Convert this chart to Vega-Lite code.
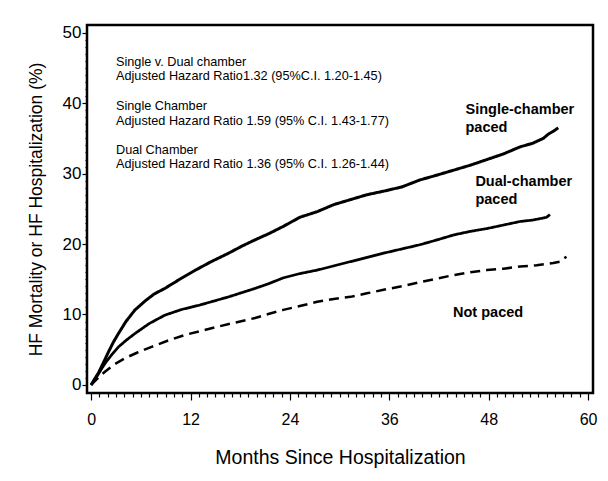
{
  "$schema": "https://vega.github.io/schema/vega-lite/v6.json",
  "width": 506,
  "height": 368,
  "autosize": "none",
  "padding": {"left": 87, "top": 25, "right": 15, "bottom": 88},
  "background": "white",
  "config": {
    "view": {"stroke": "black", "strokeWidth": 2.5},
    "font": "Liberation Sans",
    "axis": {"domain": false, "grid": false, "labelColor": "black", "tickColor": "black", "titleColor": "black", "labelFont": "Liberation Sans", "titleFont": "Liberation Sans", "titleFontWeight": "normal", "labelOverlap": false, "labelBound": false}
  },
  "datasets": {
    "curves": [
      {"group": "Single", "m": 0, "v": 0}, {"group": "Single", "m": 0.4, "v": 0.8}, {"group": "Single", "m": 0.88, "v": 1.7}, {"group": "Single", "m": 1.5, "v": 3.2}, {"group": "Single", "m": 2.1, "v": 4.7}, {"group": "Single", "m": 2.7, "v": 6.1}, {"group": "Single", "m": 3.3, "v": 7.3}, {"group": "Single", "m": 4.2, "v": 9.0}, {"group": "Single", "m": 5.3, "v": 10.65}, {"group": "Single", "m": 6.5, "v": 11.9}, {"group": "Single", "m": 7.6, "v": 12.9}, {"group": "Single", "m": 8.9, "v": 13.7}, {"group": "Single", "m": 10.7, "v": 15.0}, {"group": "Single", "m": 12.6, "v": 16.3}, {"group": "Single", "m": 14.5, "v": 17.5}, {"group": "Single", "m": 16.6, "v": 18.7}, {"group": "Single", "m": 18.2, "v": 19.7}, {"group": "Single", "m": 19.8, "v": 20.6}, {"group": "Single", "m": 21.5, "v": 21.5}, {"group": "Single", "m": 23.2, "v": 22.5}, {"group": "Single", "m": 25.2, "v": 23.8}, {"group": "Single", "m": 27.3, "v": 24.6}, {"group": "Single", "m": 29.3, "v": 25.6}, {"group": "Single", "m": 31.3, "v": 26.3}, {"group": "Single", "m": 33.3, "v": 27.0}, {"group": "Single", "m": 35.3, "v": 27.5}, {"group": "Single", "m": 37.5, "v": 28.1}, {"group": "Single", "m": 39.7, "v": 29.1}, {"group": "Single", "m": 41.8, "v": 29.8}, {"group": "Single", "m": 43.8, "v": 30.5}, {"group": "Single", "m": 45.8, "v": 31.2}, {"group": "Single", "m": 47.8, "v": 32.0}, {"group": "Single", "m": 49.8, "v": 32.8}, {"group": "Single", "m": 51.8, "v": 33.8}, {"group": "Single", "m": 53.3, "v": 34.3}, {"group": "Single", "m": 54.6, "v": 35.0}, {"group": "Single", "m": 55.2, "v": 35.6}, {"group": "Single", "m": 55.8, "v": 36.0}, {"group": "Single", "m": 56.4, "v": 36.5},
      {"group": "Dual", "m": 0, "v": 0}, {"group": "Dual", "m": 0.5, "v": 0.8}, {"group": "Dual", "m": 1.0, "v": 1.8}, {"group": "Dual", "m": 1.7, "v": 3.1}, {"group": "Dual", "m": 2.5, "v": 4.3}, {"group": "Dual", "m": 3.3, "v": 5.4}, {"group": "Dual", "m": 4.3, "v": 6.4}, {"group": "Dual", "m": 5.3, "v": 7.3}, {"group": "Dual", "m": 7.0, "v": 8.7}, {"group": "Dual", "m": 8.9, "v": 9.9}, {"group": "Dual", "m": 10.9, "v": 10.7}, {"group": "Dual", "m": 13.0, "v": 11.3}, {"group": "Dual", "m": 14.8, "v": 11.9}, {"group": "Dual", "m": 16.6, "v": 12.5}, {"group": "Dual", "m": 18.2, "v": 13.1}, {"group": "Dual", "m": 19.8, "v": 13.7}, {"group": "Dual", "m": 21.5, "v": 14.4}, {"group": "Dual", "m": 23.2, "v": 15.2}, {"group": "Dual", "m": 25.2, "v": 15.8}, {"group": "Dual", "m": 27.3, "v": 16.3}, {"group": "Dual", "m": 29.3, "v": 16.9}, {"group": "Dual", "m": 31.3, "v": 17.5}, {"group": "Dual", "m": 33.3, "v": 18.1}, {"group": "Dual", "m": 35.3, "v": 18.7}, {"group": "Dual", "m": 37.5, "v": 19.3}, {"group": "Dual", "m": 39.7, "v": 19.9}, {"group": "Dual", "m": 41.8, "v": 20.6}, {"group": "Dual", "m": 43.8, "v": 21.3}, {"group": "Dual", "m": 45.8, "v": 21.8}, {"group": "Dual", "m": 47.8, "v": 22.2}, {"group": "Dual", "m": 49.8, "v": 22.7}, {"group": "Dual", "m": 51.8, "v": 23.2}, {"group": "Dual", "m": 53.3, "v": 23.4}, {"group": "Dual", "m": 54.6, "v": 23.7}, {"group": "Dual", "m": 55.0, "v": 23.8}, {"group": "Dual", "m": 55.4, "v": 24.2},
      {"group": "Not", "m": 0, "v": 0}, {"group": "Not", "m": 0.6, "v": 0.7}, {"group": "Not", "m": 1.0, "v": 1.2}, {"group": "Not", "m": 1.7, "v": 1.9}, {"group": "Not", "m": 2.8, "v": 2.9}, {"group": "Not", "m": 4.1, "v": 3.8}, {"group": "Not", "m": 5.6, "v": 4.6}, {"group": "Not", "m": 7.3, "v": 5.4}, {"group": "Not", "m": 9.3, "v": 6.3}, {"group": "Not", "m": 11.35, "v": 7.1}, {"group": "Not", "m": 13.4, "v": 7.7}, {"group": "Not", "m": 15.4, "v": 8.3}, {"group": "Not", "m": 17.6, "v": 8.9}, {"group": "Not", "m": 19.8, "v": 9.5}, {"group": "Not", "m": 21.5, "v": 10.1}, {"group": "Not", "m": 23.2, "v": 10.65}, {"group": "Not", "m": 25.2, "v": 11.2}, {"group": "Not", "m": 27.3, "v": 11.8}, {"group": "Not", "m": 29.3, "v": 12.2}, {"group": "Not", "m": 31.3, "v": 12.5}, {"group": "Not", "m": 33.3, "v": 13.0}, {"group": "Not", "m": 35.3, "v": 13.5}, {"group": "Not", "m": 37.5, "v": 14.0}, {"group": "Not", "m": 39.7, "v": 14.6}, {"group": "Not", "m": 41.8, "v": 15.1}, {"group": "Not", "m": 43.8, "v": 15.6}, {"group": "Not", "m": 45.8, "v": 16.0}, {"group": "Not", "m": 47.8, "v": 16.3}, {"group": "Not", "m": 49.8, "v": 16.5}, {"group": "Not", "m": 51.8, "v": 16.8}, {"group": "Not", "m": 53.8, "v": 17.0}, {"group": "Not", "m": 55.8, "v": 17.3}, {"group": "Not", "m": 56.6, "v": 17.5}, {"group": "Not", "m": 57.0, "v": 17.9}, {"group": "Not", "m": 57.4, "v": 18.2}
    ],
    "notes": [
      {"m": 3.0, "v": 45.9, "label": "Single v. Dual chamber"},
      {"m": 3.0, "v": 43.9, "label": "Adjusted Hazard Ratio1.32 (95%C.I. 1.20-1.45)"},
      {"m": 3.0, "v": 39.6, "label": "Single Chamber"},
      {"m": 3.0, "v": 37.5, "label": "Adjusted Hazard Ratio 1.59 (95% C.I. 1.43-1.77)"},
      {"m": 3.0, "v": 33.4, "label": "Dual Chamber"},
      {"m": 3.0, "v": 31.3, "label": "Adjusted Hazard Ratio 1.36 (95% C.I. 1.26-1.44)"}
    ],
    "labels": [
      {"m": 45.2, "v": 39.1, "label": "Single-chamber"},
      {"m": 45.2, "v": 36.5, "label": "paced"},
      {"m": 46.4, "v": 28.8, "label": "Dual-chamber"},
      {"m": 46.4, "v": 26.3, "label": "paced"},
      {"m": 43.7, "v": 10.2, "label": "Not paced"}
    ]
  },
  "encoding": {
    "x": {"field": "m", "type": "quantitative", "scale": {"domain": [-0.5, 60.6], "nice": false, "zero": false},
      "axis": {"values": [0,1,2,3,4,5,6,7,8,9,10,11,12,13,14,15,16,17,18,19,20,21,22,23,24,25,26,27,28,29,30,31,32,33,34,35,36,37,38,39,40,41,42,43,44,45,46,47,48,49,50,51,52,53,54,55,56,57,58,59,60],
        "labelExpr": "datum.value % 12 === 0 ? datum.label : ''",
        "tickSize": {"condition": {"test": "datum.value % 12 === 0", "value": 7}, "value": 4},
        "tickWidth": 1.2,
        "labelFontSize": 16, "labelPadding": 11,
        "title": "Months Since Hospitalization", "titleFontSize": 19.5, "titlePadding": 21}},
    "y": {"field": "v", "type": "quantitative", "scale": {"domain": [-1.15, 51.1], "nice": false, "zero": false},
      "axis": {"values": [0,1,2,3,4,5,6,7,8,9,10,11,12,13,14,15,16,17,18,19,20,21,22,23,24,25,26,27,28,29,30,31,32,33,34,35,36,37,38,39,40,41,42,43,44,45,46,47,48,49,50],
        "labelExpr": "datum.value % 10 === 0 ? datum.label : ''",
        "tickSize": {"condition": {"test": "datum.value % 10 === 0", "value": 5}, "value": 2},
        "tickWidth": 1.2,
        "labelFontSize": 17, "labelPadding": 1,
        "title": "HF Mortality or HF Hospitalization  (%)", "titleFontSize": 17.5, "titlePadding": 17}}
  },
  "layer": [
    {
      "data": {"name": "curves"},
      "mark": {"type": "line", "color": "black", "clip": true},
      "encoding": {
        "detail": {"field": "group"},
        "strokeDash": {"field": "group", "type": "nominal", "scale": {"domain": ["Single", "Dual", "Not"], "range": [[1, 0], [1, 0], [10, 6]]}, "legend": null},
        "strokeWidth": {"field": "group", "type": "nominal", "scale": {"domain": ["Single", "Dual", "Not"], "range": [3, 2.5, 3.5]}, "legend": null}
      }
    },
    {
      "data": {"name": "notes"},
      "mark": {"type": "text", "align": "left", "baseline": "middle", "fontSize": 12.7, "font": "Liberation Sans", "color": "black"},
      "encoding": {"text": {"field": "label"}}
    },
    {
      "data": {"name": "labels"},
      "mark": {"type": "text", "align": "left", "baseline": "middle", "fontSize": 14.5, "fontWeight": "bold", "font": "Liberation Sans", "color": "black"},
      "encoding": {"text": {"field": "label"}}
    }
  ]
}
